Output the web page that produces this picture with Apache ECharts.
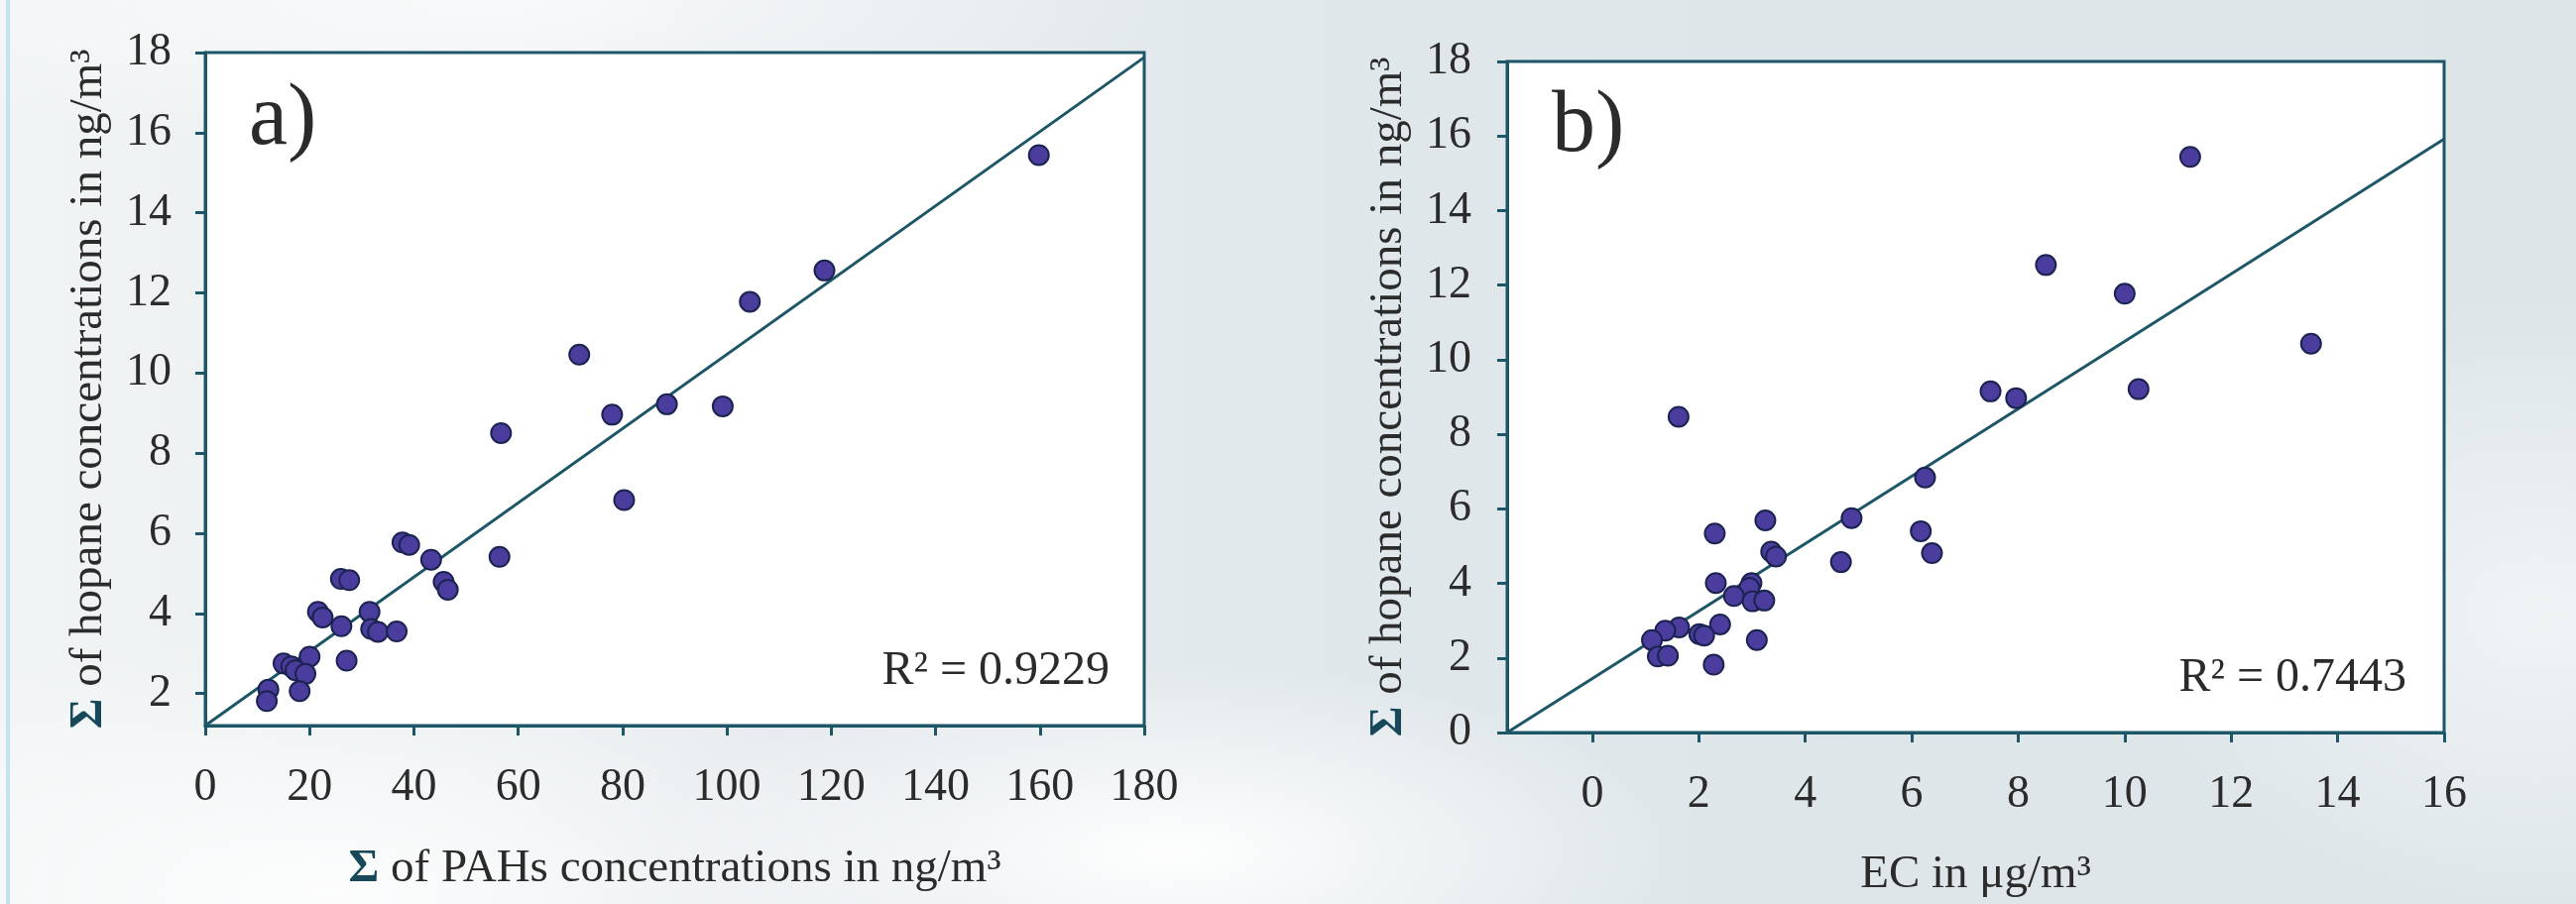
<!DOCTYPE html>
<html>
<head>
<meta charset="utf-8">
<script src="https://cdn.jsdelivr.net/npm/echarts@6/dist/echarts.min.js"></script>
<style>
  html, body { margin: 0; padding: 0; }
  body {
    width: 2598px; height: 912px; position: relative; overflow: hidden;
    background:
      radial-gradient(ellipse 520px 190px at 1180px 860px, rgba(255,255,255,0.95), rgba(255,255,255,0)),
      radial-gradient(ellipse 650px 260px at 330px 900px, rgba(255,255,255,0.85), rgba(255,255,255,0)),
      radial-gradient(ellipse 420px 320px at 2560px 620px, rgba(255,255,255,0.55), rgba(255,255,255,0)),
      radial-gradient(ellipse 700px 160px at 500px 0px, rgba(255,255,255,0.7), rgba(255,255,255,0)),
      linear-gradient(90deg, #f1f4f5 0%, #e6ebee 28%, #e0e7ea 55%, #dde5e9 100%);
  }
  #edge { position: absolute; left: 6px; top: 0; width: 4px; height: 912px; background: #c4e2f2; }
  #main { position: absolute; left: 0; top: 0; width: 2598px; height: 912px; }
</style>
</head>
<body>
<div id="edge"></div>
<div id="main"></div>
<script>
// a) sum of PAHs (ng/m3) vs sum of hopanes (ng/m3)
var pahA = [159.8, 118.7, 104.4, 71.7, 78.0, 88.5, 99.2, 56.7, 80.3, 37.8, 39.1, 43.3, 56.4, 45.7, 46.5,
            26.0, 27.6, 21.6, 22.5, 31.5, 26.1, 31.8, 33.1, 36.7, 27.1, 20.0, 15.0, 16.5, 17.3, 19.2, 18.1, 12.1, 11.8];
var hopA = [15.44, 12.56, 11.78, 10.46, 8.96, 9.22, 9.17, 8.50, 6.83, 5.77, 5.71, 5.34, 5.41, 4.79, 4.59,
            4.86, 4.83, 4.04, 3.90, 4.04, 3.68, 3.61, 3.54, 3.55, 2.82, 2.92, 2.75, 2.68, 2.58, 2.49, 2.06, 2.10, 1.81];
var trendA = [[0, 1.2], [180, 17.88]];

// b) EC (ug/m3) vs sum of hopanes (ng/m3)
var ecB = [11.23, 8.52, 10.0, 13.5, 7.48, 7.96, 10.26, 1.62, 6.25, 4.87, 3.25, 2.30, 6.17, 3.36, 3.45,
           6.38, 4.67, 2.32, 2.99, 2.95, 2.66, 3.01, 3.23, 2.40, 1.63, 1.37, 1.12, 2.01, 2.10, 3.09, 1.23, 1.42, 2.28];
var hopB = [15.44, 12.54, 11.77, 10.43, 9.15, 8.97, 9.21, 8.47, 6.84, 5.75, 5.69, 5.34, 5.40, 4.85, 4.72,
            4.81, 4.57, 4.01, 4.01, 3.88, 3.66, 3.52, 3.54, 2.90, 2.82, 2.73, 2.48, 2.64, 2.60, 2.48, 2.04, 2.06, 1.82];
var trendB = [[-1.6, 0], [16, 15.92]];

var ticksA_y = [2, 4, 6, 8, 10, 12, 14, 16, 18];
var ticksB_x = [0, 2, 4, 6, 8, 10, 12, 14, 16];
var r2A = 'R² = 0.9229';
var r2B = 'R² = 0.7443';

var axisColor = '#1d5666';
var font = '"Liberation Serif", "Times New Roman", serif';
var labelStyle = { color: '#2b2b2b', fontFamily: font, fontSize: 46 };
var nameRich = {
    s: { fontFamily: font, fontSize: 47, fontWeight: 'bold', color: '#17485a' },
    t: { fontFamily: font, fontSize: 47, color: '#2b2b2b' }
};

function pairs(xs, ys) {
    return xs.map(function (x, i) { return [x, ys[i]]; });
}

function baseAxis(extra) {
    var ax = {
        type: 'value',
        axisLine: { show: true, onZero: false, lineStyle: { color: axisColor, width: 3 } },
        axisTick: { show: true, inside: false, length: 10, lineStyle: { color: axisColor, width: 3 } },
        splitLine: { show: false },
        axisLabel: Object.assign({ margin: 36 }, labelStyle),
        nameLocation: 'middle',
        nameTextStyle: { rich: nameRich }
    };
    return Object.assign(ax, extra);
}

var myChart = echarts.init(document.getElementById('main'), null, { renderer: 'canvas' });

var option = {
    backgroundColor: 'transparent',
    animation: false,
    grid: [
        { left: 207, top: 53, width: 947, height: 679, show: true, backgroundColor: '#ffffff', borderColor: axisColor, borderWidth: 3 },
        { left: 1520, top: 62, width: 945, height: 677, show: true, backgroundColor: '#ffffff', borderColor: axisColor, borderWidth: 3 }
    ],
    xAxis: [
        baseAxis({
            gridIndex: 0, min: 0, max: 180, interval: 20,
            axisLabel: Object.assign({ margin: 40 }, labelStyle),
            name: '{s|Σ}{t| of PAHs concentrations in ng/m³}', nameGap: 121
        }),
        baseAxis({
            gridIndex: 1, min: -1.6, max: 16,
            axisTick: { show: true, length: 10, lineStyle: { color: axisColor, width: 3 }, customValues: ticksB_x },
            axisLabel: Object.assign({ margin: 40, customValues: ticksB_x }, labelStyle),
            name: '{t|EC in μg/m³}', nameGap: 120
        })
    ],
    yAxis: [
        baseAxis({
            gridIndex: 0, min: 1.2, max: 18,
            axisTick: { show: true, length: 10, lineStyle: { color: axisColor, width: 3 }, customValues: ticksA_y },
            axisLabel: Object.assign({ margin: 34, customValues: ticksA_y }, labelStyle),
            name: '{s|Σ}{t| of hopane concentrations in ng/m³}', nameGap: 94
        }),
        baseAxis({
            gridIndex: 1, min: 0, max: 18, interval: 2,
            axisLabel: Object.assign({ margin: 36 }, labelStyle),
            name: '{s|Σ}{t| of hopane concentrations in ng/m³}', nameGap: 96
        })
    ],
    series: [
        {
            name: 'trend a', type: 'line', xAxisIndex: 0, yAxisIndex: 0,
            data: trendA, showSymbol: false, symbol: 'none',
            lineStyle: { color: axisColor, width: 3 }, z: 2
        },
        {
            name: 'a', type: 'scatter', xAxisIndex: 0, yAxisIndex: 0,
            data: pairs(pahA, hopA), symbolSize: 20,
            itemStyle: { color: '#4b3d9e', borderColor: '#1b2350', borderWidth: 2, opacity: 1 }, z: 3
        },
        {
            name: 'trend b', type: 'line', xAxisIndex: 1, yAxisIndex: 1,
            data: trendB, showSymbol: false, symbol: 'none',
            lineStyle: { color: axisColor, width: 3 }, z: 2
        },
        {
            name: 'b', type: 'scatter', xAxisIndex: 1, yAxisIndex: 1,
            data: pairs(ecB, hopB), symbolSize: 20,
            itemStyle: { color: '#4b3d9e', borderColor: '#1b2350', borderWidth: 2, opacity: 1 }, z: 3
        }
    ],
    graphic: [
        { type: 'text', z: 10, style: { text: 'a)', x: 251, y: 166, fill: '#2b2b2b', font: '88px ' + font, align: 'left', verticalAlign: 'bottom' } },
        { type: 'text', z: 10, style: { text: 'b)', x: 1565, y: 173, fill: '#2b2b2b', font: '88px ' + font, align: 'left', verticalAlign: 'bottom' } },
        { type: 'text', z: 10, style: { text: r2A, x: 1119, y: 701, fill: '#2b2b2b', font: '48px ' + font, align: 'right', verticalAlign: 'bottom' } },
        { type: 'text', z: 10, style: { text: r2B, x: 2427, y: 708, fill: '#2b2b2b', font: '48px ' + font, align: 'right', verticalAlign: 'bottom' } }
    ]
};

myChart.setOption(option);
window.addEventListener('resize', function () { myChart.resize(); });
</script>
</body>
</html>
